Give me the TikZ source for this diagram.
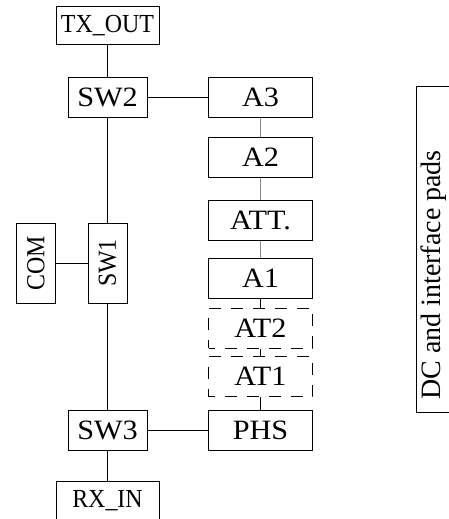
\documentclass[tikz,border=0pt]{standalone}
\usepackage{fontspec}
\setmainfont{Liberation Serif}
\newfontfamily\boxfont{Liberation Serif}[FakeStretch=1.08]
\newfontfamily\portfont{Liberation Serif}[FakeStretch=0.92]
\newfontfamily\sidefont{Liberation Serif}[FakeStretch=0.92]
\usetikzlibrary{calc}

\begin{document}
\begin{tikzpicture}[x=1pt, y=-1pt, line width=1pt,
		blk/.style={draw, inner sep=0pt, minimum height=40pt, font=\boxfont\fontsize{28}{28}\selectfont},
		sw/.style={blk, minimum width=79pt},
		amp/.style={blk, minimum width=104pt},
		att/.style={amp, dash pattern=on 12pt off 10pt, dash phase=6pt},
		port/.style={blk, minimum width=103pt, minimum height=38pt, font=\portfont\fontsize{26}{26}\selectfont},
		vblk/.style={blk, rotate=90, minimum width=80pt, minimum height=39pt, font=\sidefont\fontsize{26}{26}\selectfont},
		link/.style={draw=black!45}]
		\useasboundingbox (0,0) rectangle (449,519);
		\clip (0,0) rectangle (449,519);
		% left column: ports and switches
		\node[port] (txout) at (107.5,26) {TX\_OUT};
		\node[sw] (sw2) at (107.5,97) {SW2};
		\node[vblk] (sw1) at (107.5,263) {SW1};
		\node[vblk] (com) at (36,263) {COM};
		\node[sw] (sw3) at (107.5,430.5) {SW3};
		\node[port, minimum height=40pt] (rxin) at (107.5,501) {RX\_IN};
		\draw (txout) -- (sw2) -- (sw1) -- (sw3) -- (rxin);
		\draw (com) -- (sw1);
		% right column: amplifier chain
		\node[amp] (a3) at (260.5,97) {A3};
		\node[amp] (a2) at (260.5,157.5) {A2};
		\node[amp] (att) at (260.5,220.5) {ATT.};
		\node[amp] (a1) at (260.5,278) {A1};
		\node[att] (at2) at (260.5,328) {AT2};
		\node[att] (at1) at (260.5,376.5) {AT1};
		\node[amp] (phs) at (260.5,430.5) {PHS};
		\draw (sw2) -- (a3);
		\draw (sw3) -- (phs);
		\draw[link] (a3) -- (a2);
		\draw[link] (a2) -- (att);
		\draw[link] (att) -- (a1);
		\draw (a1) -- (at2);
		\draw (at2) -- (at1);
		\draw (at1) -- (phs);
		% pads strip on the right edge
		\draw (470,86) -- (416,86) -- (416,412) -- (470,412);
		\node[rotate=90, font=\fontsize{28}{28}\selectfont] (pads) at (434,275) {DC and interface pads};
	\end{tikzpicture}
\end{document}
